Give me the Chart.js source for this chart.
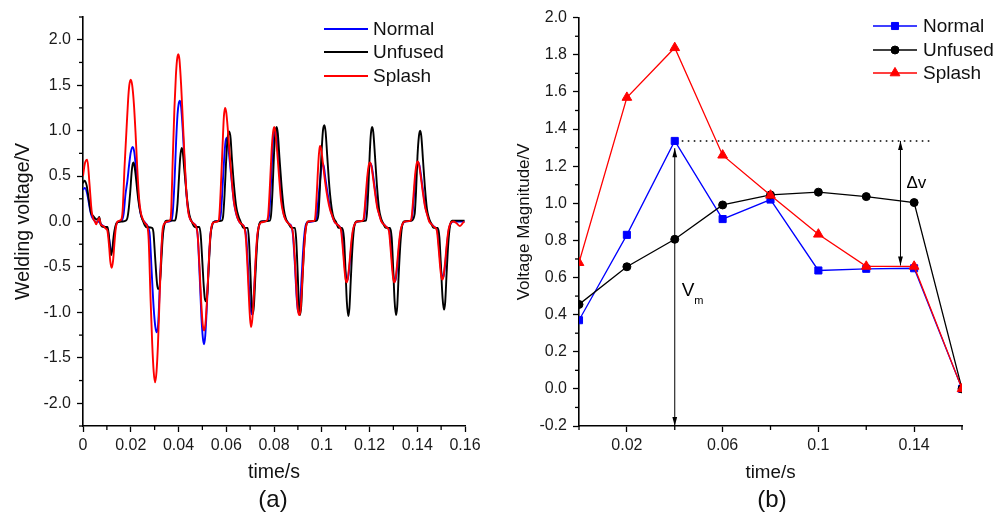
<!DOCTYPE html>
<html><head><meta charset="utf-8">
<script src="https://cdn.jsdelivr.net/npm/chart.js"></script>
<style>
html,body{margin:0;padding:0;background:#fff;}
#wrap{position:relative;width:1007px;height:516px;overflow:hidden;font-family:'Liberation Sans',Arial,sans-serif;background:#fff;}
canvas{position:absolute;top:0;}
#ca{left:0;width:500px;height:516px;}
#cb{left:500px;width:507px;height:516px;}
.cap{position:absolute;font-size:24px;color:#111;transform:translate(-50%,-50%);line-height:1;white-space:nowrap;}
</style></head>
<body><div id="wrap">
<canvas id="ca" width="500" height="516"></canvas>
<canvas id="cb" width="507" height="516"></canvas>
<div class="cap" style="left:273px;top:499px">(a)</div>
<div class="cap" style="left:772px;top:499px">(b)</div>
</div>
<script>
// ---------- Panel (a): welding voltage waveforms (time in ms, voltage in V) ----------
const seriesNames = ['Normal', 'Unfused', 'Splash'];

const normalT = [0.0,0.8,1.8,2.8,3.6,4.5,5.5,6.8,7.5,8.5,9.7,
10.4,11.0,11.5,12.0,12.5,13.0,13.6,14.4,16.2,
17.0,17.8,18.6,19.3,20.0,20.8,21.5,22.2,22.8,23.5,24.2,25.0,26.2,27.4,
28.0,28.8,29.6,30.3,30.9,31.5,32.3,33.0,33.7,34.6,37.0,
37.6,38.3,39.0,39.6,40.1,40.6,41.1,41.8,42.6,43.4,44.2,45.0,46.3,47.6,
48.1,48.9,49.6,50.2,50.7,51.2,51.9,52.7,53.4,54.2,55.2,57.2,
57.8,58.5,59.2,59.7,60.2,60.7,61.4,62.3,63.2,64.1,65.0,66.0,67.7,
68.4,69.1,69.8,70.3,70.7,71.2,71.9,72.6,73.3,74.1,75.0,77.4,
78.0,78.7,79.4,79.9,80.5,81.0,81.7,82.5,83.3,84.1,85.0,86.1,87.4,
87.9,88.7,89.4,89.9,90.4,90.9,91.6,92.3,93.0,93.9,97.4,
97.9,98.6,99.3,99.9,100.4,100.9,101.6,102.5,103.5,104.3,105.3,106.3,107.6,
108.3,109.1,109.8,110.2,110.6,111.1,111.8,112.5,113.2,114.0,115.0,117.4,
117.9,118.6,119.3,119.9,120.4,120.9,121.6,122.5,123.4,124.2,125.1,126.0,127.1,
128.3,129.1,129.8,130.2,130.6,131.1,131.8,132.5,133.2,134.0,135.0,137.4,
137.9,138.6,139.3,139.9,140.4,140.9,141.6,142.5,143.4,144.3,145.2,146.1,147.2,
148.4,149.2,149.9,150.3,150.7,151.2,151.9,152.6,153.3,154.1,155.2,157.0,159.8];
const normalV = [0.35,0.37,0.30,0.15,0.06,0.02,-0.01,0.00,-0.03,-0.05,-0.07,
-0.10,-0.20,-0.29,-0.33,-0.29,-0.18,-0.07,-0.01,0.01,
0.08,0.30,0.45,0.62,0.76,0.82,0.76,0.58,0.40,0.20,0.08,0.02,-0.02,-0.07,
-0.16,-0.57,-0.95,-1.16,-1.22,-1.12,-0.62,-0.25,-0.07,-0.01,0.01,
0.10,0.42,0.88,1.18,1.30,1.33,1.26,1.00,0.62,0.28,0.10,0.02,-0.02,-0.07,
-0.18,-0.62,-1.05,-1.28,-1.35,-1.26,-0.92,-0.45,-0.14,-0.03,0.00,0.01,
0.10,0.40,0.72,0.88,0.92,0.86,0.68,0.44,0.22,0.09,0.02,-0.02,-0.07,
-0.18,-0.50,-0.85,-0.98,-1.02,-0.95,-0.65,-0.32,-0.10,-0.02,0.00,0.01,
0.08,0.40,0.80,0.97,1.02,0.96,0.75,0.48,0.22,0.08,0.02,-0.02,-0.06,
-0.14,-0.45,-0.80,-0.96,-1.00,-0.92,-0.60,-0.28,-0.08,-0.01,0.01,
0.07,0.25,0.45,0.60,0.64,0.60,0.46,0.30,0.15,0.07,0.00,-0.03,-0.06,
-0.10,-0.32,-0.54,-0.62,-0.65,-0.61,-0.44,-0.24,-0.09,-0.02,0.00,0.01,
0.06,0.27,0.49,0.61,0.64,0.61,0.49,0.31,0.15,0.07,0.00,-0.03,-0.06,
-0.10,-0.32,-0.55,-0.63,-0.66,-0.62,-0.45,-0.24,-0.09,-0.02,0.00,0.01,
0.06,0.27,0.50,0.62,0.65,0.62,0.50,0.32,0.16,0.07,0.00,-0.03,-0.06,
-0.10,-0.31,-0.52,-0.59,-0.62,-0.58,-0.42,-0.22,-0.08,-0.02,0.00,0.00,0.00];

const unfusedT = [0.0,0.6,1.5,2.4,3.3,4.3,5.2,6.0,6.8,7.5,8.5,10.3,
10.8,11.3,11.8,12.3,12.9,13.6,14.3,16.5,18.0,
18.6,19.2,19.8,20.4,20.8,21.1,21.5,22.1,22.8,23.6,24.4,25.2,26.4,28.9,
29.5,30.2,30.8,31.3,31.9,32.4,32.9,33.5,34.2,35.0,38.5,
39.0,39.6,40.2,40.7,41.3,41.8,42.4,43.1,43.9,44.6,45.5,46.8,48.7,
49.3,50.0,50.6,51.1,51.6,52.1,52.7,53.4,54.2,55.2,58.1,
58.7,59.3,59.9,60.5,61.2,61.8,62.4,63.3,64.2,65.1,66.0,67.2,69.0,
69.5,70.1,70.6,71.1,71.6,72.2,72.9,73.6,74.5,78.3,
78.8,79.4,80.0,80.6,81.1,81.6,82.3,83.2,84.1,85.0,86.0,87.3,88.8,
89.3,89.9,90.4,90.9,91.4,92.0,92.7,93.4,94.3,97.9,
98.6,99.2,99.9,100.5,101.1,101.6,102.3,103.2,104.2,105.0,105.9,107.0,108.5,
109.3,109.9,110.5,111.1,111.6,112.2,112.9,113.6,114.5,118.5,
118.9,119.5,120.1,120.6,121.1,121.6,122.3,123.1,124.0,124.9,125.7,126.8,128.6,
129.3,129.9,130.5,131.1,131.6,132.2,132.9,133.6,134.5,137.7,
138.9,139.5,140.1,140.7,141.2,141.7,142.4,143.2,144.1,145.0,145.8,146.8,148.6,
149.3,149.9,150.6,151.2,151.7,152.3,153.0,153.7,154.6,157.0,159.8];
const unfusedV = [0.42,0.45,0.40,0.25,0.10,0.06,0.03,0.02,0.05,-0.04,-0.06,-0.06,
-0.15,-0.30,-0.37,-0.30,-0.15,-0.05,-0.01,0.00,0.01,
0.04,0.15,0.33,0.55,0.63,0.65,0.62,0.50,0.32,0.16,0.06,0.00,-0.06,-0.07,
-0.12,-0.39,-0.62,-0.74,-0.74,-0.62,-0.39,-0.14,-0.02,0.01,0.01,
0.05,0.20,0.48,0.70,0.81,0.76,0.58,0.38,0.18,0.07,0.00,-0.06,-0.06,
-0.15,-0.45,-0.72,-0.86,-0.88,-0.78,-0.48,-0.16,-0.03,0.00,0.01,
0.06,0.30,0.64,0.90,0.99,0.92,0.68,0.38,0.16,0.06,0.00,-0.07,-0.07,
-0.20,-0.55,-0.88,-1.02,-0.92,-0.60,-0.25,-0.06,0.00,0.01,
0.08,0.35,0.74,0.98,1.04,0.97,0.70,0.38,0.14,0.03,-0.02,-0.07,-0.07,
-0.20,-0.55,-0.90,-1.03,-0.93,-0.60,-0.25,-0.06,0.00,0.01,
0.08,0.35,0.75,1.00,1.06,0.99,0.72,0.38,0.14,0.04,0.00,-0.07,-0.07,
-0.18,-0.50,-0.88,-1.04,-0.95,-0.62,-0.27,-0.06,0.00,0.01,
0.08,0.35,0.75,0.97,1.04,0.98,0.72,0.40,0.14,0.03,-0.02,-0.07,-0.07,
-0.18,-0.50,-0.87,-1.03,-0.94,-0.60,-0.26,-0.06,0.00,0.01,
0.08,0.33,0.72,0.94,1.00,0.94,0.68,0.38,0.13,0.03,-0.02,-0.07,-0.07,
-0.18,-0.48,-0.84,-0.97,-0.89,-0.57,-0.24,-0.05,0.01,0.01,0.01];

const splashT = [0.0,0.8,1.8,2.7,3.6,4.3,5.0,5.5,6.2,6.8,7.4,8.5,9.6,
10.2,10.9,11.4,12.0,12.6,13.1,13.7,14.5,16.0,
16.6,17.4,18.2,18.9,19.4,20.0,20.6,21.3,22.0,22.7,23.5,24.2,25.0,26.0,27.0,
27.5,28.3,29.0,29.6,30.2,30.8,31.4,32.0,32.7,33.3,34.2,35.3,36.6,
37.0,37.6,38.3,38.9,39.4,39.9,40.4,41.1,41.8,42.5,43.3,44.1,45.0,46.2,47.4,
48.0,48.8,49.5,50.1,50.7,51.3,51.9,52.6,53.2,53.8,54.7,56.8,
57.2,57.9,58.5,59.0,59.5,60.0,60.7,61.5,62.3,63.2,64.1,65.0,66.0,67.6,
68.2,68.9,69.6,70.0,70.4,70.9,71.6,72.3,73.0,73.7,74.6,77.0,
77.6,78.3,79.0,79.6,80.1,80.6,81.3,82.1,83.0,83.9,84.8,86.0,87.3,
88.0,88.8,89.5,90.0,90.6,91.2,91.9,92.6,93.3,94.3,97.0,
97.4,98.0,98.6,99.0,99.3,99.8,100.5,101.4,102.5,103.5,104.3,105.3,106.3,107.5,
108.1,108.9,109.6,110.0,110.4,110.9,111.6,112.3,113.0,113.8,114.8,117.2,
117.7,118.4,119.1,119.7,120.2,120.7,121.4,122.3,123.2,124.0,125.0,125.9,127.0,
128.1,128.9,129.6,130.0,130.4,130.9,131.6,132.3,133.0,133.8,134.8,137.2,
137.7,138.4,139.1,139.7,140.2,140.7,141.4,142.3,143.2,144.1,145.0,146.0,147.1,
148.2,149.0,149.7,150.1,150.5,151.0,151.7,152.4,153.1,153.9,155.1,156.5,157.9,159.3,159.8];
const splashV = [0.50,0.64,0.68,0.42,0.12,0.03,0.00,-0.03,0.01,0.04,-0.03,-0.05,-0.08,
-0.10,-0.26,-0.43,-0.51,-0.43,-0.26,-0.08,0.00,0.02,
0.12,0.60,1.00,1.34,1.50,1.56,1.50,1.30,0.98,0.60,0.25,0.10,0.03,-0.02,-0.06,
-0.20,-0.85,-1.35,-1.65,-1.77,-1.65,-1.35,-0.90,-0.40,-0.10,-0.02,0.00,0.02,
0.15,0.70,1.25,1.60,1.78,1.84,1.78,1.50,1.12,0.72,0.33,0.10,0.02,-0.02,-0.06,
-0.14,-0.50,-0.88,-1.12,-1.20,-1.12,-0.88,-0.50,-0.20,-0.06,-0.01,0.01,
0.10,0.48,0.86,1.15,1.25,1.20,1.00,0.72,0.46,0.22,0.10,0.02,-0.02,-0.07,
-0.18,-0.50,-0.90,-1.08,-1.16,-1.08,-0.80,-0.42,-0.15,-0.05,-0.01,0.01,
0.08,0.40,0.78,0.98,1.04,0.98,0.78,0.50,0.22,0.09,0.02,-0.02,-0.06,
-0.14,-0.45,-0.80,-0.97,-1.03,-0.95,-0.62,-0.30,-0.08,0.00,0.01,
0.08,0.35,0.66,0.79,0.83,0.79,0.64,0.44,0.25,0.13,0.07,0.00,-0.03,-0.06,
-0.10,-0.32,-0.55,-0.64,-0.67,-0.63,-0.46,-0.25,-0.10,-0.03,0.00,0.01,
0.06,0.28,0.50,0.62,0.65,0.62,0.50,0.32,0.16,0.08,0.00,-0.03,-0.06,
-0.10,-0.32,-0.55,-0.64,-0.67,-0.63,-0.46,-0.25,-0.10,-0.03,0.00,0.01,
0.06,0.28,0.51,0.63,0.66,0.63,0.51,0.33,0.17,0.08,0.00,-0.03,-0.06,
-0.10,-0.31,-0.53,-0.61,-0.64,-0.60,-0.44,-0.24,-0.09,-0.02,0.00,-0.02,-0.05,-0.01,0.00];

// Panel (a) ticks
const aXMajor = [0,0.02,0.04,0.06,0.08,0.1,0.12,0.14,0.16];
const aXLabels = ['0','0.02','0.04','0.06','0.08','0.1','0.12','0.14','0.16'];
const aXMinor = [0.01,0.03,0.05,0.07,0.09,0.11,0.13,0.15];
const aYMajor = [-2,-1.5,-1,-0.5,0,0.5,1,1.5,2];
const aYLabels = ['-2.0','-1.5','-1.0','-0.5','0.0','0.5','1.0','1.5','2.0'];
const aYMinor = [-2.25,-1.75,-1.25,-0.75,-0.25,0.25,0.75,1.25,1.75,2.25];

// ---------- Panel (b): voltage magnitude per cycle ----------
const magTime = [0,0.02,0.04,0.06,0.08,0.1,0.12,0.14,0.16];
const magNormal = [0.37,0.83,1.336,0.915,1.02,0.638,0.647,0.65,0];
const magUnfused = [0.455,0.658,0.806,0.991,1.045,1.06,1.036,1.004,0];
const magSplash = [0.68,1.57,1.838,1.259,1.043,0.833,0.66,0.66,0];

const bXMajor = [0.02,0.06,0.1,0.14];
const bXLabels = ['0.02','0.06','0.1','0.14'];
const bXMinor = [0,0.04,0.08,0.12,0.16];
const bYMajor = [-0.2,0,0.2,0.4,0.6,0.8,1.0,1.2,1.4,1.6,1.8,2.0];
const bYLabels = ['-0.2','0.0','0.2','0.4','0.6','0.8','1.0','1.2','1.4','1.6','1.8','2.0'];
const bYMinor = [-0.1,0.1,0.3,0.5,0.7,0.9,1.1,1.3,1.5,1.7,1.9];

// annotation anchors for panel (b) (in data units)
const dottedEndT = 0.148;
const vmArrowTop = 1.297;
const dvArrowT = 0.1343;
const dvArrowLow = 0.665;
const vmLabelV = 0.50;
const dvLabelV = 1.108;

// ---------- helpers ----------
const FONT = "'Liberation Sans', Arial, sans-serif";
Chart.defaults.font.family = FONT;
Chart.defaults.color = '#1a1a1a';

const msPts = (T, V) => T.slice(0, Math.min(T.length, V.length)).map((t, i) => ({x: t / 1000, y: V[i]}));
const sPts = (T, V) => T.map((t, i) => ({x: t, y: V[i]}));

function axis(o) {
  const all = o.major.concat(o.minor).sort((a, b) => a - b);
  const isMajor = v => o.major.indexOf(v) >= 0;
  return {
    type: 'linear', min: o.min, max: o.max,
    afterBuildTicks: s => { s.ticks = all.map(v => ({value: v})); },
    afterFit: s => { if (o.isX) s.height = o.size; else s.width = o.size; },
    ticks: {
      autoSkip: false, maxRotation: 0, minRotation: 0, padding: o.tickPad,
      color: '#1a1a1a', font: {size: 16},
      callback: v => { const i = o.major.indexOf(v); return i >= 0 ? o.labels[i] : ''; }
    },
    grid: {
      display: true, drawOnChartArea: false, drawTicks: true, tickLength: 6, tickWidth: 1.3,
      tickColor: c => (c.tick && isMajor(c.tick.value)) ? '#000' : 'rgba(0,0,0,0)'
    },
    border: {display: true, color: '#000', width: 1.6},
    title: {display: true, text: o.title, color: '#111', font: {size: o.titleSize}, padding: o.titlePad}
  };
}

function minorTicks(specs) {
  return {
    id: 'minorTicks',
    afterDraw(chart) {
      const ctx = chart.ctx, ca = chart.chartArea;
      ctx.save();
      ctx.strokeStyle = '#000'; ctx.lineWidth = 1.3;
      specs.forEach(sp => {
        const s = chart.scales[sp.id];
        sp.minor.forEach(v => {
          const p = s.getPixelForValue(v);
          ctx.beginPath();
          if (sp.id === 'x') { ctx.moveTo(p, ca.bottom); ctx.lineTo(p, ca.bottom + 4); }
          else { ctx.moveTo(ca.left - 4, p); ctx.lineTo(ca.left, p); }
          ctx.stroke();
        });
      });
      ctx.restore();
    }
  };
}

function drawMarker(ctx, style, x, y, r, color) {
  ctx.fillStyle = color; ctx.strokeStyle = color; ctx.lineWidth = 1;
  ctx.beginPath();
  if (style === 'rect') { const h = r * Math.SQRT1_2; ctx.rect(x - h, y - h, 2 * h, 2 * h); }
  else if (style === 'circle') { ctx.arc(x, y, r, 0, Math.PI * 2); }
  else if (style === 'triangle') {
    ctx.moveTo(x, y - r);
    ctx.lineTo(x + r * Math.sin(2 * Math.PI / 3), y - r * Math.cos(2 * Math.PI / 3));
    ctx.lineTo(x + r * Math.sin(4 * Math.PI / 3), y - r * Math.cos(4 * Math.PI / 3));
    ctx.closePath();
  }
  ctx.fill(); ctx.stroke();
}

const colors = ['#0000ff', '#000000', '#ff0000'];

// ---------- Chart (a) ----------
const legendA = {
  id: 'legendA',
  afterDraw(chart) {
    const ctx = chart.ctx, rows = [29, 52, 76];
    ctx.save();
    ctx.font = '19px ' + FONT; ctx.textBaseline = 'middle'; ctx.fillStyle = '#111';
    chart.data.datasets.forEach((ds, i) => {
      ctx.strokeStyle = ds.borderColor; ctx.lineWidth = 1.8;
      ctx.beginPath(); ctx.moveTo(324, rows[i]); ctx.lineTo(368, rows[i]); ctx.stroke();
      ctx.fillText(ds.label, 373, rows[i] + 1);
    });
    ctx.restore();
  }
};

new Chart(document.getElementById('ca'), {
  type: 'line',
  data: {
    datasets: [
      {label: seriesNames[0], data: msPts(normalT, normalV), borderColor: colors[0], order: 3},
      {label: seriesNames[1], data: msPts(unfusedT, unfusedV), borderColor: colors[1], order: 2},
      {label: seriesNames[2], data: msPts(splashT, splashV), borderColor: colors[2], order: 1}
    ]
  },
  options: {
    responsive: false, animation: false, devicePixelRatio: 1,
    layout: {padding: {left: 0, right: 35, top: 17, bottom: 0}},
    elements: {
      point: {radius: 0, hoverRadius: 0},
      line: {borderWidth: 1.9, cubicInterpolationMode: 'monotone', fill: false}
    },
    plugins: {legend: {display: false}, tooltip: {enabled: false}},
    events: [],
    scales: {
      x: axis({isX: true, min: 0, max: 0.16, major: aXMajor, labels: aXLabels, minor: aXMinor,
        size: 90, tickPad: 4, title: 'time/s', titleSize: 19.5, titlePad: {top: 0, bottom: 31.3}}),
      y: axis({isX: false, min: -2.25, max: 2.25, major: aYMajor, labels: aYLabels, minor: aYMinor,
        size: 83, tickPad: 6, title: 'Welding voltage/V', titleSize: 19.5, titlePad: {top: 12.3, bottom: 0}})
    }
  },
  plugins: [minorTicks([{id: 'x', minor: aXMinor}, {id: 'y', minor: aYMinor}]), legendA]
});

// ---------- Chart (b) ----------
const pointStyles = ['rect', 'circle', 'triangle'];
const pointRadii = [5.0, 4.0, 5.6];

const legendB = {
  id: 'legendB',
  afterDraw(chart) {
    const ctx = chart.ctx, rows = [26, 50, 73];
    ctx.save();
    chart.data.datasets.forEach((ds, i) => {
      ctx.strokeStyle = ds.borderColor; ctx.lineWidth = 1.3;
      ctx.beginPath(); ctx.moveTo(373, rows[i]); ctx.lineTo(417, rows[i]); ctx.stroke();
      drawMarker(ctx, pointStyles[i], 395, rows[i], pointRadii[i], ds.borderColor);
      ctx.font = '19px ' + FONT; ctx.textBaseline = 'middle'; ctx.fillStyle = '#111';
      ctx.fillText(ds.label, 423, rows[i] + 1);
    });
    ctx.restore();
  }
};

function vArrow(ctx, x, yTop, yBot, headTop, headBot) {
  ctx.beginPath(); ctx.moveTo(x, yTop); ctx.lineTo(x, yBot); ctx.stroke();
  if (headTop) { ctx.beginPath(); ctx.moveTo(x, yTop); ctx.lineTo(x - 2.4, yTop + 9); ctx.lineTo(x + 2.4, yTop + 9); ctx.closePath(); ctx.fill(); }
  if (headBot) { ctx.beginPath(); ctx.moveTo(x, yBot); ctx.lineTo(x - 2.4, yBot - 9); ctx.lineTo(x + 2.4, yBot - 9); ctx.closePath(); ctx.fill(); }
}

const annotB = {
  id: 'annotB',
  afterDatasetsDraw(chart) {
    const ctx = chart.ctx, xs = chart.scales.x, ys = chart.scales.y;
    const x0 = xs.getPixelForValue(magTime[2]);
    const y0 = ys.getPixelForValue(magNormal[2]);
    ctx.save();
    ctx.strokeStyle = '#000'; ctx.fillStyle = '#000';
    ctx.lineWidth = 1.6; ctx.setLineDash([1.6, 4.4]);
    ctx.beginPath(); ctx.moveTo(x0 + 7, y0); ctx.lineTo(xs.getPixelForValue(dottedEndT), y0); ctx.stroke();
    ctx.setLineDash([]); ctx.lineWidth = 1;
    vArrow(ctx, x0, ys.getPixelForValue(vmArrowTop), ys.getPixelForValue(ys.min), true, true);
    const xd = xs.getPixelForValue(dvArrowT);
    vArrow(ctx, xd, y0, ys.getPixelForValue(dvArrowLow), true, true);
    ctx.textBaseline = 'alphabetic';
    ctx.font = '19px ' + FONT;
    const yv = ys.getPixelForValue(vmLabelV);
    ctx.fillText('V', x0 + 7, yv);
    ctx.font = '11px ' + FONT;
    ctx.fillText('m', x0 + 19.5, yv + 8);
    ctx.font = '17px ' + FONT; ctx.textBaseline = 'middle';
    ctx.fillText('\u0394v', xd + 6, ys.getPixelForValue(dvLabelV));
    ctx.restore();
  }
};

const mkB = (i, vals, order) => ({
  label: seriesNames[i], data: sPts(magTime, vals), borderColor: colors[i], backgroundColor: colors[i],
  pointStyle: pointStyles[i], pointRadius: pointRadii[i], pointBackgroundColor: colors[i],
  pointBorderColor: colors[i], pointBorderWidth: 1, borderWidth: 1.3, tension: 0, clip: 0, order: order
});

new Chart(document.getElementById('cb'), {
  type: 'line',
  data: {datasets: [mkB(0, magNormal, 3), mkB(1, magUnfused, 2), mkB(2, magSplash, 1)]},
  options: {
    responsive: false, animation: false, devicePixelRatio: 1,
    layout: {padding: {left: 0, right: 45, top: 17.7, bottom: 0}},
    plugins: {legend: {display: false}, tooltip: {enabled: false}},
    events: [],
    scales: {
      x: axis({isX: true, min: 0, max: 0.16, major: bXMajor, labels: bXLabels, minor: bXMinor,
        size: 90, tickPad: 4, title: 'time/s', titleSize: 18.75, titlePad: {top: 0, bottom: 31.7}}),
      y: axis({isX: false, min: -0.2, max: 2.0, major: bYMajor, labels: bYLabels, minor: bYMinor,
        size: 79, tickPad: 6, title: 'Voltage Magnitude/V', titleSize: 17, titlePad: {top: 13.8, bottom: 0}})
    }
  },
  plugins: [minorTicks([{id: 'x', minor: bXMinor}, {id: 'y', minor: bYMinor}]), annotB, legendB]
});
</script></body></html>
